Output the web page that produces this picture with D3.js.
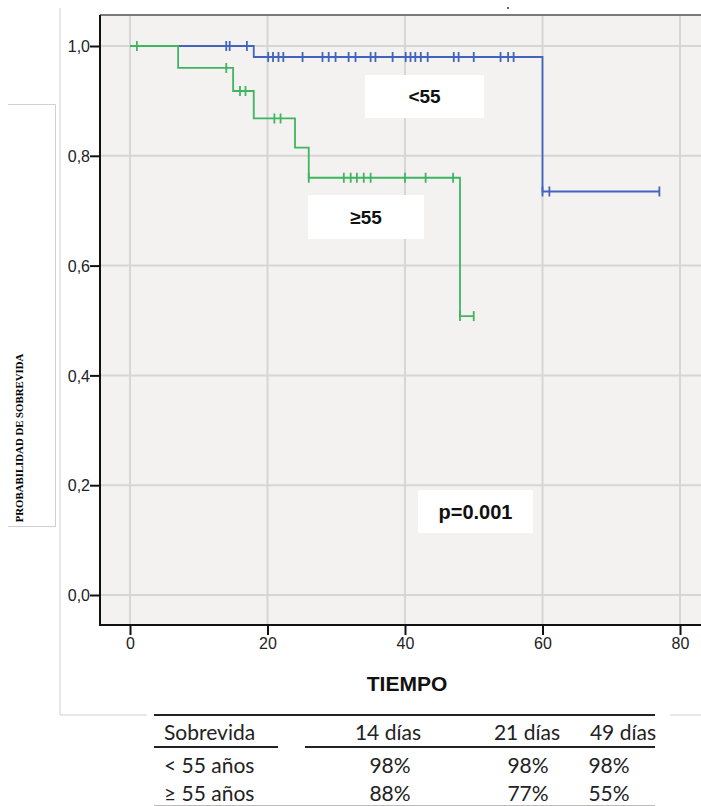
<!DOCTYPE html>
<html>
<head>
<meta charset="utf-8">
<script src="https://cdn.jsdelivr.net/npm/d3@7"></script>
<style>
  body { margin: 0; background: #fff; }
  svg { display: block; }
</style>
</head>
<body>
<script>
// survival curves (Kaplan-Meier steps)
var blueTimes = [0, 18, 60],
    blueSurv = [1.0, 0.98, 0.735],
    blueEnd = 77;
var greenTimes = [0, 7, 15, 18, 24, 26, 48],
    greenSurv = [1.0, 0.96, 0.918, 0.868, 0.815, 0.76, 0.508],
    greenEnd = 50;

// censored observations
var blueCensor = [14, 14.5, 17, 20.1, 20.8, 21.6, 22.3, 25.1, 28, 28.9, 29.9, 31.8, 32.8,
                  35, 35.7, 38.2, 40.1, 40.8, 41.5, 42.3, 43.3, 47.1, 47.8, 50, 53.9, 55,
                  55.8, 60, 61, 77];
var greenCensor = [1, 14, 16, 16.8, 21, 21.9, 26, 31.1, 32.1, 33, 34, 35, 40, 43, 47, 48, 50];

var xTicks = [0, 20, 40, 60, 80],
    yTicks = [0, 0.2, 0.4, 0.6, 0.8, 1.0];

// table below the chart
var tableHeader = ['Sobrevida', '14 días', '21 días', '49 días'];
var tableRows = [
    ['< 55 años', '98%', '98%', '98%'],
    ['\u2265 55 años', '88%', '77%', '55%']
];

var width = 701, height = 806;
var plot = {left: 100, top: 15, right: 701, bottom: 625};

var svg = d3.select('body').append('svg')
    .attr('width', width)
    .attr('height', height);

//scales
var xScale = d3.scaleLinear().domain([0, 80]).range([130, 680]);
var yScale = d3.scaleLinear().domain([0, 1]).range([595, 46]);

//outer frame lines of the output window
var frame = svg.append('g').attr('stroke', '#d0d0d0').attr('fill', 'none').attr('stroke-width', 1);
frame.append('path').attr('d', 'M60,8V715H701');
frame.append('path').attr('d', 'M8,104.5H55.5V526.5H8');

svg.append('text')
    .attr('transform', 'translate(23,438) rotate(-90)')
    .attr('text-anchor', 'middle')
    .style('font-family', '"Liberation Serif", "DejaVu Serif", serif')
    .style('font-weight', 'bold')
    .style('font-size', '10.8px')
    .text('PROBABILIDAD DE SOBREVIDA');

//plot background
svg.append('rect')
    .attr('x', plot.left).attr('y', plot.top)
    .attr('width', plot.right - plot.left).attr('height', plot.bottom - plot.top)
    .attr('fill', '#f3f2f0');

//grid
var grid = svg.append('g').attr('stroke', '#d6d6d6').attr('stroke-width', 2);
grid.selectAll('.gx').data(xTicks).enter().append('line')
    .attr('x1', d => xScale(d)).attr('x2', d => xScale(d))
    .attr('y1', plot.top).attr('y2', plot.bottom);
grid.selectAll('.gy').data(yTicks).enter().append('line')
    .attr('x1', plot.left).attr('x2', plot.right)
    .attr('y1', d => yScale(d)).attr('y2', d => yScale(d));

//top border
svg.append('line')
    .attr('x1', plot.left).attr('x2', plot.right)
    .attr('y1', plot.top).attr('y2', plot.top)
    .attr('stroke', '#7a7a7a').attr('stroke-width', 2);

//axes
var yAxis = d3.axisLeft(yScale).tickValues(yTicks).tickSize(10).tickSizeOuter(0)
    .tickFormat(d => d3.format('.1f')(d).replace('.', ','));
var xAxis = d3.axisBottom(xScale).tickValues(xTicks).tickSize(10).tickSizeOuter(0);

var gy = svg.append('g').attr('transform', 'translate(' + plot.left + ',0)').call(yAxis);
var gx = svg.append('g').attr('transform', 'translate(0,' + plot.bottom + ')').call(xAxis);
[gx, gy].forEach(function(g) {
    g.select('.domain').remove();
    g.selectAll('.tick line').attr('stroke', '#111').attr('stroke-width', 2);
    g.selectAll('.tick text')
        .style('font-family', '"Liberation Sans", Arial, sans-serif')
        .style('font-size', '16px')
        .attr('fill', '#222');
});
gy.selectAll('.tick text').attr('x', -10).attr('dy', '0.36em');
gx.selectAll('.tick text').attr('y', 13);
gx.selectAll('.tick line').attr('y1', 0);

svg.append('line')
    .attr('x1', plot.left).attr('x2', plot.left)
    .attr('y1', plot.top).attr('y2', plot.bottom + 1)
    .attr('stroke', '#111').attr('stroke-width', 2);
svg.append('line')
    .attr('x1', plot.left - 1).attr('x2', plot.right)
    .attr('y1', plot.bottom).attr('y2', plot.bottom)
    .attr('stroke', '#111').attr('stroke-width', 2);

svg.append('text')
    .attr('x', 407).attr('y', 691)
    .attr('text-anchor', 'middle')
    .style('font-family', '"Liberation Sans", Arial, sans-serif')
    .style('font-weight', 'bold')
    .style('font-size', '21px')
    .attr('fill', '#111')
    .text('TIEMPO');

//curves
function stepPoints(times, surv, end) {
    var pts = times.map((t, i) => [t, surv[i]]);
    pts.push([end, surv[surv.length - 1]]);
    return pts;
}
function survAt(times, surv, t) {
    var s = surv[0];
    times.forEach((tt, i) => { if (t >= tt) s = surv[i]; });
    return s;
}
var line = d3.line()
    .x(d => xScale(d[0]))
    .y(d => yScale(d[1]))
    .curve(d3.curveStepAfter);

var series = [
    {times: blueTimes, surv: blueSurv, end: blueEnd, censor: blueCensor, color: '#4264bf'},
    {times: greenTimes, surv: greenSurv, end: greenEnd, censor: greenCensor, color: '#3fb560'}
];
series.forEach(function(s) {
    var g = svg.append('g');
    g.append('path')
        .attr('d', line(stepPoints(s.times, s.surv, s.end)))
        .attr('fill', 'none')
        .attr('stroke', s.color)
        .attr('stroke-width', 1.8);
    g.selectAll('.c').data(s.censor).enter().append('line')
        .attr('x1', d => xScale(d)).attr('x2', d => xScale(d))
        .attr('y1', d => yScale(survAt(s.times, s.surv, d)) - 5)
        .attr('y2', d => yScale(survAt(s.times, s.surv, d)) + 5)
        .attr('stroke', s.color)
        .attr('stroke-width', 1.8);
});

//annotation boxes
var labels = [
    {text: '<55', x: 365, y: 75, w: 119, h: 43, size: 19},
    {text: '\u226555', x: 308, y: 195, w: 116, h: 44, size: 19},
    {text: 'p=0.001', x: 418, y: 490, w: 115, h: 43, size: 20}
];
labels.forEach(function(l) {
    svg.append('rect').attr('x', l.x).attr('y', l.y).attr('width', l.w).attr('height', l.h).attr('fill', '#fff');
    svg.append('text')
        .attr('x', l.x + l.w / 2).attr('y', l.y + l.h / 2)
        .attr('dy', '0.36em')
        .attr('text-anchor', 'middle')
        .style('font-family', '"Liberation Sans", Arial, sans-serif')
        .style('font-weight', 'bold')
        .style('font-size', l.size + 'px')
        .attr('fill', '#111')
        .text(l.text);
});

svg.append('circle').attr('cx', 508).attr('cy', 8).attr('r', 1).attr('fill', '#333');

//table
var tbl = svg.append('g');
tbl.append('rect').attr('x', 147).attr('y', 712).attr('width', 523).attr('height', 94).attr('fill', '#fff');
tbl.append('line').attr('x1', 154).attr('x2', 655).attr('y1', 715).attr('y2', 715)
    .attr('stroke', '#222').attr('stroke-width', 2);
tbl.append('line').attr('x1', 154).attr('x2', 278).attr('y1', 747).attr('y2', 747)
    .attr('stroke', '#222').attr('stroke-width', 2);
tbl.append('line').attr('x1', 305).attr('x2', 655).attr('y1', 747).attr('y2', 747)
    .attr('stroke', '#222').attr('stroke-width', 2);
tbl.append('line').attr('x1', 154).attr('x2', 655).attr('y1', 805.5).attr('y2', 805.5)
    .attr('stroke', '#bbb').attr('stroke-width', 1);

var headX = [164, 421, 560, 656],
    headAnchor = ['start', 'end', 'end', 'end'],
    cellX = [164, 390, 528, 609],
    cellAnchor = ['start', 'middle', 'middle', 'middle'];
var tfont = 'Lato, "Open Sans", sans-serif';
tbl.selectAll('.h').data(tableHeader).enter().append('text')
    .attr('x', (d, i) => headX[i]).attr('y', 740)
    .attr('text-anchor', (d, i) => headAnchor[i])
    .style('font-family', tfont).style('font-size', '21px').attr('fill', '#222')
    .text(d => d);
tableRows.forEach(function(row, r) {
    tbl.selectAll('.r' + r).data(row).enter().append('text')
        .attr('x', (d, i) => cellX[i]).attr('y', 773 + r * 28)
        .attr('text-anchor', (d, i) => cellAnchor[i])
        .style('font-family', tfont).style('font-size', '21px').attr('fill', '#222')
        .text(d => d);
});
</script>
</body>
</html>
